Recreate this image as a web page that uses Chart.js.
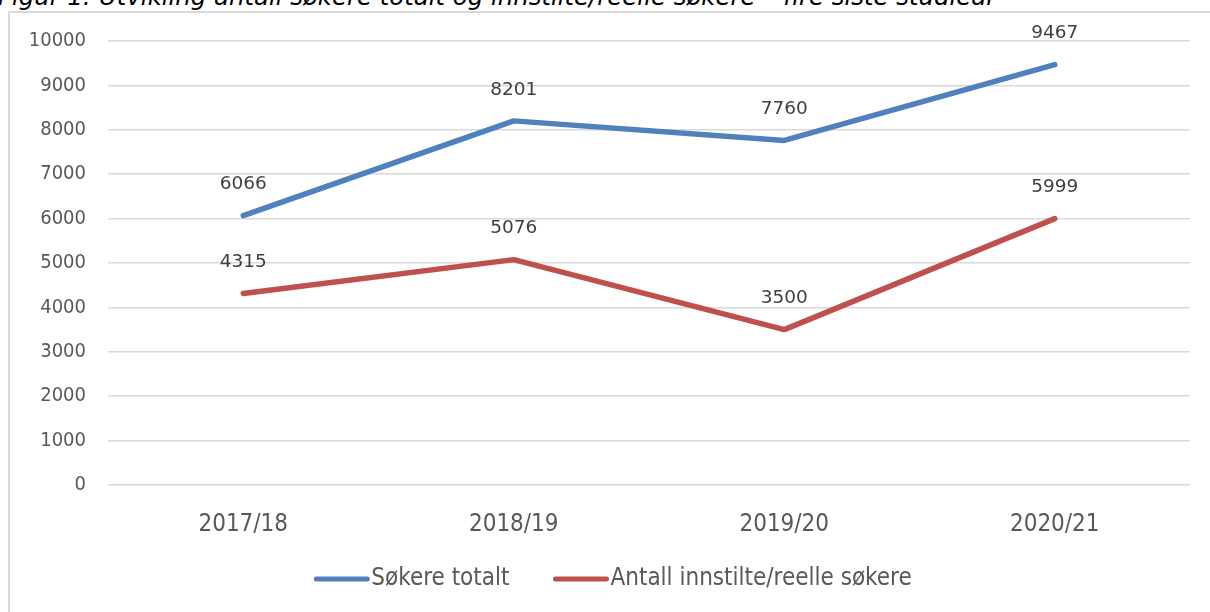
<!DOCTYPE html>
<html>
<head>
<meta charset="utf-8">
<script src="https://cdn.jsdelivr.net/npm/chart.js@4"></script>
<style>
    body { margin: 0; width: 1210px; height: 612px; overflow: hidden; background: #fff; position: relative; font-family: "DejaVu Sans", sans-serif; }
    #title { position: absolute; left: -2px; top: -15px; font-size: 24.4px; line-height: 24px; font-style: italic; color: #000; white-space: nowrap; }
    #frame { position: absolute; left: 8px; top: 11px; width: 1300px; height: 700px; border: 2px solid #d9d9d9; box-sizing: border-box; }
    #wrap { position: absolute; left: 0; top: 0; width: 1210px; height: 612px; }
</style>
</head>
<body>
<div id="title">Figur 1: Utvikling antall søkere totalt og innstilte/reelle søkere – fire siste studieår</div>
<div id="frame"></div>
<div id="wrap"><canvas id="lineChart"></canvas></div>
<script>
// data
var years = ['2017/18', '2018/19', '2019/20', '2020/21'];
var seriesNames = ['Søkere totalt', 'Antall innstilte/reelle søkere'];
var totalApplicants = [6066, 8201, 7760, 9467];
var qualifiedApplicants = [4315, 5076, 3500, 5999];
var seriesColors = ['#4f81bd', '#c0504d'];

var fontFamily = '"DejaVu Sans", sans-serif';
var narrowFamily = '"DejaVu Sans Condensed", "DejaVu Sans", sans-serif';

// value labels above each point
var pointLabels = {
    id: 'pointLabels',
    afterDatasetsDraw: function (chart) {
        var c = chart.ctx;
        c.save();
        c.font = '18.5px ' + fontFamily;
        c.fillStyle = '#404040';
        c.textAlign = 'center';
        c.textBaseline = 'middle';
        chart.data.datasets.forEach(function (ds, i) {
            chart.getDatasetMeta(i).data.forEach(function (pt, j) {
                c.fillText(String(ds.data[j]), pt.x, pt.y - 31);
            });
        });
        c.restore();
    }
};

// legend under the axis, line sample right next to the text
var bottomLegend = {
    id: 'bottomLegend',
    afterDraw: function (chart) {
        var c = chart.ctx;
        var sample = 55, gap = 2, between = 44;
        c.save();
        c.font = '24px ' + narrowFamily;
        var total = 0;
        chart.data.datasets.forEach(function (ds, i) {
            total += sample + gap + c.measureText(ds.label).width + (i > 0 ? between : 0);
        });
        var x = chart.width / 2 + 8 - total / 2;
        var y = chart.chartArea.bottom + 94;
        c.textBaseline = 'middle';
        chart.data.datasets.forEach(function (ds, i) {
            if (i > 0) x += between;
            c.strokeStyle = ds.borderColor;
            c.lineWidth = 5;
            c.lineCap = 'round';
            c.beginPath();
            c.moveTo(x + 2, y);
            c.lineTo(x + sample - 2, y);
            c.stroke();
            x += sample + gap;
            c.fillStyle = '#595959';
            c.fillText(ds.label, x, y);
            x += c.measureText(ds.label).width;
        });
        c.restore();
    }
};

var chart = new Chart(document.getElementById('lineChart').getContext('2d'), {
    type: 'line',
    data: {
        labels: years,
        datasets: [{
            label: seriesNames[0],
            data: totalApplicants,
            borderColor: seriesColors[0],
            backgroundColor: seriesColors[0],
            borderWidth: 5.5,
            borderCapStyle: 'round',
            borderJoinStyle: 'round',
            pointRadius: 0,
            tension: 0,
            fill: false
        }, {
            label: seriesNames[1],
            data: qualifiedApplicants,
            borderColor: seriesColors[1],
            backgroundColor: seriesColors[1],
            borderWidth: 5.5,
            borderCapStyle: 'round',
            borderJoinStyle: 'round',
            pointRadius: 0,
            tension: 0,
            fill: false
        }]
    },
    options: {
        responsive: true,
        maintainAspectRatio: false,
        animation: false,
        layout: {
            padding: { top: 41, right: 20, bottom: 79, left: 0 }
        },
        plugins: {
            legend: { display: false },
            tooltip: { enabled: false }
        },
        scales: {
            x: {
                offset: true,
                afterFit: function (scale) { scale.height = 48; },
                grid: { display: false, drawTicks: false },
                border: { display: false },
                ticks: {
                    padding: 25,
                    color: '#595959',
                    font: { family: narrowFamily, size: 24 }
                }
            },
            y: {
                min: 0,
                max: 10000,
                afterFit: function (scale) { scale.width = 108; },
                grid: { color: '#d9d9d9', lineWidth: 1.5, drawTicks: false },
                border: { display: false },
                ticks: {
                    stepSize: 1000,
                    padding: 22,
                    color: '#595959',
                    font: { family: narrowFamily, size: 20 },
                    callback: function (v) { return String(v); }
                }
            }
        }
    },
    plugins: [pointLabels, bottomLegend]
});
</script>
</body>
</html>
